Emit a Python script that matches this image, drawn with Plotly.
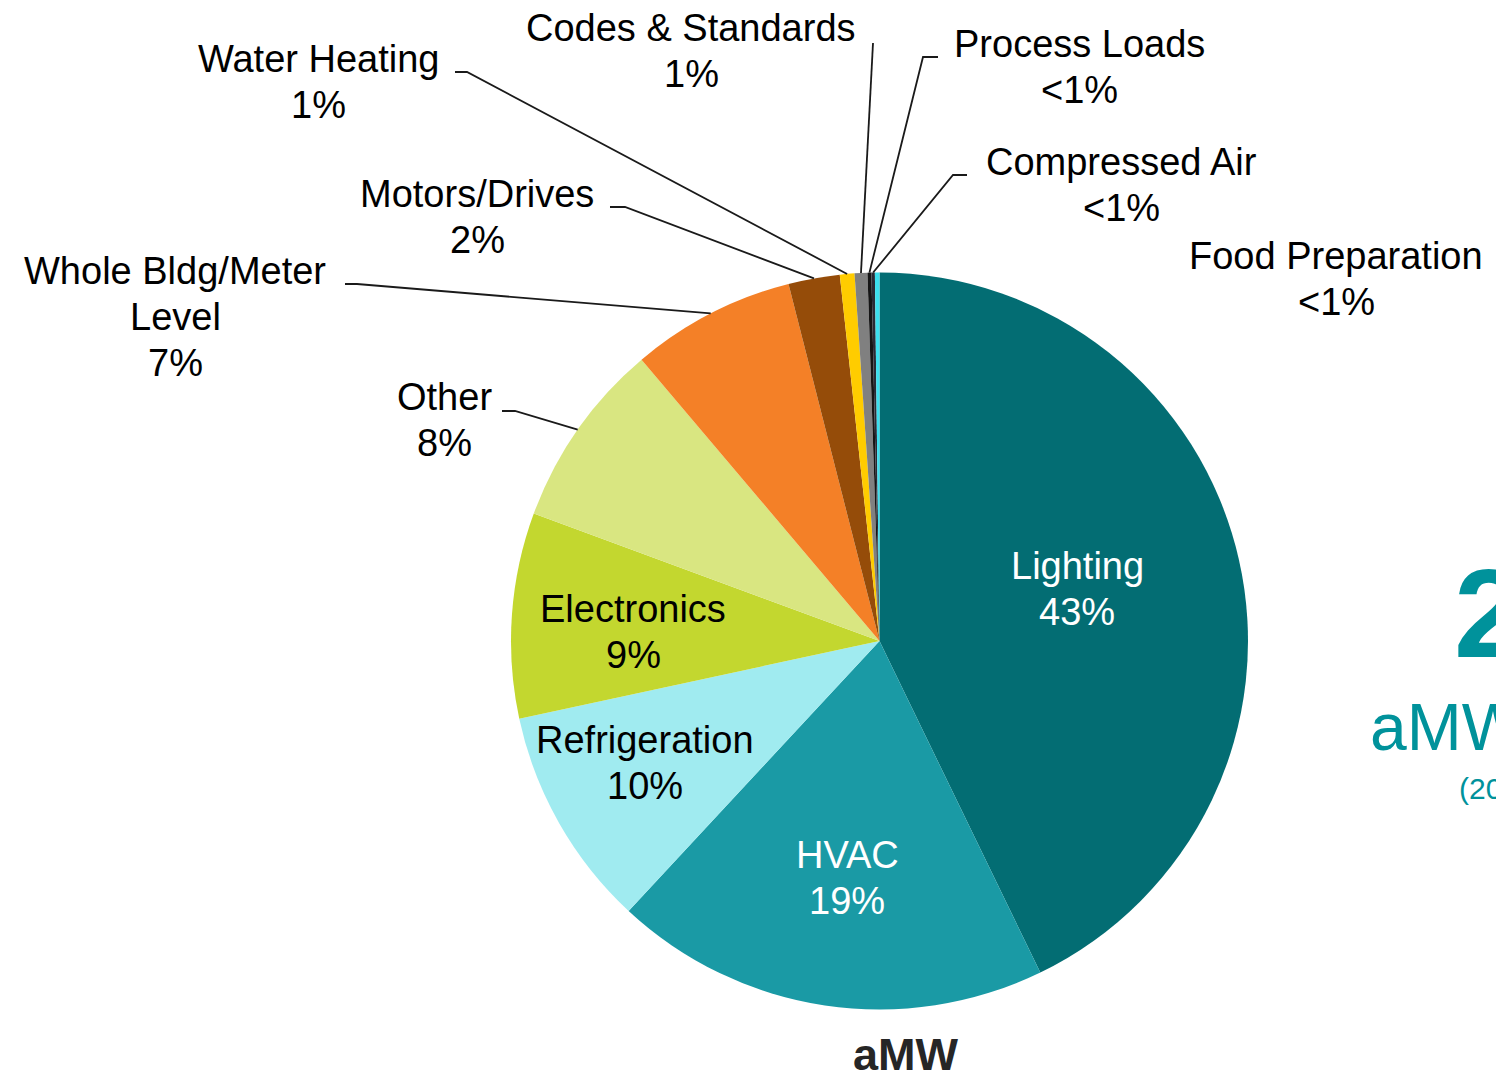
import math
import plotly.graph_objects as go

W, H = 1496, 1076

# ---------------- data ----------------
categories = ["Lighting", "HVAC", "Refrigeration", "Electronics", "Other",
              "Whole Bldg/Meter Level", "Motors/Drives", "Water Heating",
              "Codes & Standards", "Process Loads", "Compressed Air",
              "Food Preparation"]
shares = [42.8, 19.1, 9.7, 9.0, 8.2, 7.2, 2.25, 0.64, 0.56, 0.17, 0.15, 0.20]
pct_labels = ["43%", "19%", "10%", "9%", "8%", "7%", "2%", "1%", "1%",
              "<1%", "<1%", "<1%"]
name_lines = [["Lighting"], ["HVAC"], ["Refrigeration"], ["Electronics"],
              ["Other"], ["Whole Bldg/Meter", "Level"], ["Motors/Drives"],
              ["Water Heating"], ["Codes & Standards"], ["Process Loads"],
              ["Compressed Air"], ["Food Preparation"]]
axis_title = "aMW"

# ---------------- styles ----------------
colors = ["#036D73", "#1A9AA5", "#A0EBF0", "#C3D72F", "#D9E681", "#F48027",
          "#954C09", "#FFCC00", "#808080", "#151515", "#2A2A35", "#3CDFEE"]

# label placement (pixel centre of first text line), text colour, leader elbow
label_pos = [(1077, 566), (847, 855), (645, 740), (633, 609), (444, 397),
             (175, 271), (477, 194), (318, 59), (691, 28), (1079, 44),
             (1121, 162), (1336, 256)]
label_color = ["white", "white", "black", "black", "black", "black", "black",
               "black", "black", "black", "black", "black"]
leader_elbow = [None, None, None, None, [(502, 411), (515, 411)],
                [(345, 284), (357, 284)], [(610, 207), (625, 207)],
                [(455, 72), (467, 72)], [(873, 43)],
                [(938, 57), (923, 57)], [(967, 175), (953, 175)], None]

FONT = "Liberation Sans, Arial, sans-serif"
FS = 38
LINE_STEP = 46
TEXT_DY = 0

# pie geometry in pixels
CX, CY, R = 879.5, 641, 368.5


def px(x):
    return x / W


def py(y):
    return 1 - y / H


fig = go.Figure()
fig.add_trace(go.Pie(
    labels=categories, values=shares, sort=False, direction="clockwise",
    rotation=0, textinfo="none", hoverinfo="label+percent",
    marker=dict(colors=colors, line=dict(width=0)),
    domain=dict(x=[px(CX - R), px(CX + R)], y=[py(CY + R), py(CY - R)]),
    showlegend=False,
))

annotations = []
shapes = []
total = sum(shares)
cum = 0.0
for i, v in enumerate(shares):
    mid = (cum + v / 2) / total * 2 * math.pi
    cum += v
    ex = CX + R * math.sin(mid)
    ey = CY - R * math.cos(mid)
    lx, ly = label_pos[i]
    lines = name_lines[i] + [pct_labels[i]]
    for k, t in enumerate(lines):
        annotations.append(dict(
            x=px(lx), y=py(ly + k * LINE_STEP + TEXT_DY), xref="paper",
            yref="paper", text=t, showarrow=False, xanchor="center",
            yanchor="middle",
            font=dict(family=FONT, size=FS, color=label_color[i])))
    if leader_elbow[i]:
        pts = leader_elbow[i] + [(ex, ey)]
        path = "M " + " L ".join(f"{px(a):.5f},{py(b):.5f}" for a, b in pts)
        shapes.append(dict(type="path", xref="paper", yref="paper", path=path,
                           line=dict(color="#1a1a1a", width=1.8)))

# bottom axis-like title
annotations.append(dict(x=px(906), y=py(1054), xref="paper", yref="paper",
                        text=f"<b>{axis_title}</b>", showarrow=False,
                        xanchor="center", yanchor="middle",
                        font=dict(family=FONT, size=45, color="#262626")))
# partially visible side text (cut by the frame edge, as in the source)
TEAL = "#00929B"
annotations.append(dict(x=px(1452), y=py(613), xref="paper", yref="paper",
                        text="<b>2</b>", showarrow=False, xanchor="left",
                        yanchor="middle",
                        font=dict(family=FONT, size=126, color=TEAL)))
annotations.append(dict(x=px(1368), y=py(727), xref="paper", yref="paper",
                        text="aMW", showarrow=False, xanchor="left",
                        yanchor="middle",
                        font=dict(family=FONT, size=66, color=TEAL)))
annotations.append(dict(x=px(1457), y=py(788), xref="paper", yref="paper",
                        text="(20", showarrow=False, xanchor="left",
                        yanchor="middle",
                        font=dict(family=FONT, size=30, color=TEAL)))

fig.update_layout(
    width=W, height=H, margin=dict(l=0, r=0, t=0, b=0),
    paper_bgcolor="white", plot_bgcolor="white",
    annotations=annotations, shapes=shapes,
)

fig.write_html("out.html", config={"displayModeBar": False},
               post_script="document.body.style.margin='0';document.body.style.overflow='hidden';")
